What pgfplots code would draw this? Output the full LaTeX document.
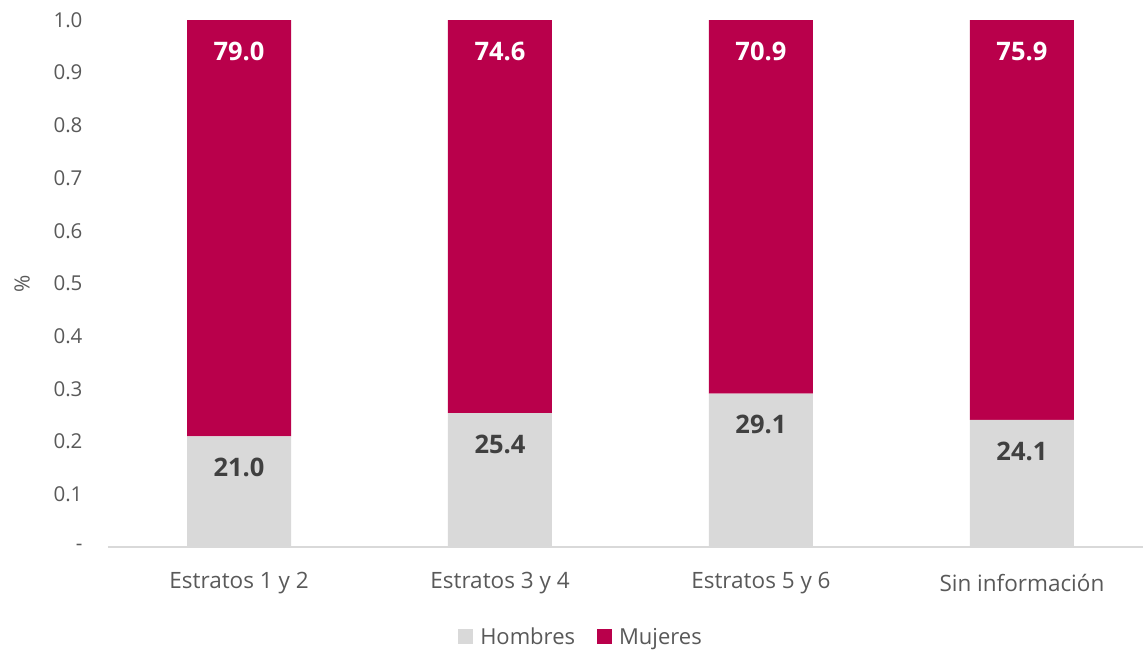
\documentclass[border=0pt]{standalone}
\usepackage{fontspec}
\setmainfont{Open Sans}
\usepackage{pgfplots}
\pgfplotsset{compat=1.18}
\definecolor{mujer}{RGB}{185,0,75}
\definecolor{hombre}{RGB}{217,217,217}
\definecolor{tickgray}{RGB}{89,89,89}
\definecolor{labgray}{RGB}{64,64,64}

\pgfplotsset{
    frame/.style={
        at={(0pt,0pt)}, anchor=south west,
        scale only axis,
        width=1035pt, height=527pt,
        xmin=-0.502, xmax=3.464,
        ymin=0, ymax=1,
        enlargelimits=false,
        clip=false,
    },
}

\begin{document}
\begin{tikzpicture}
\useasboundingbox (-108pt,-102pt) rectangle (1035pt,547pt);
\begin{axis}[
    frame,
    ybar stacked,
    bar width=104pt,
    axis x line*=bottom,
    axis y line*=left,
    x axis line style={draw=hombre, line width=1.5pt, -},
    y axis line style={draw=none},
    tick style={draw=none},
    xtick={0,1,2,3},
    xticklabels={Estratos 1 y 2, Estratos 3 y 4, Estratos 5 y 6, Sin información},
    ytick={0,0.1,0.2,0.3,0.4,0.5,0.6,0.7,0.8,0.9,1},
    yticklabels={-,0.1,0.2,0.3,0.4,0.5,0.6,0.7,0.8,0.9,1.0},
    yticklabel style={anchor=east, xshift=-22pt, font=\fontsize{20.5}{24}\selectfont, text=tickgray},
    xticklabel style={anchor=center, yshift=-36pt, font=\fontsize{22.5}{26}\selectfont, text=tickgray},
    ylabel={\%},
    ylabel style={at={(axis description cs:-0.083,0.5)}, anchor=center,
        font=\fontsize{21}{24}\selectfont, text=tickgray},
    legend style={at={(0.457,-0.171)}, anchor=center, draw=none,
        legend columns=2, font=\fontsize{22}{26}\selectfont, text=tickgray,
        /tikz/every odd column/.append style={column sep=5pt},
        /tikz/every even column/.append style={column sep=20pt}},
    legend image code/.code={\fill[#1] (0pt,-7pt) rectangle (15pt,8pt);},
]
\addplot[fill=hombre, draw=none]
    coordinates {(0,0.210) (1,0.254) (2,0.291) (3,0.241)};
\addplot[fill=mujer, draw=none]
    coordinates {(0,0.790) (1,0.746) (2,0.709) (3,0.759)};
\legend{Hombres, Mujeres}
\end{axis}
% data labels, placed at the top of each segment
\begin{axis}[
    frame,
    hide axis,
    point meta=explicit,
    nodes near coords={\pgfmathprintnumber[fixed,fixed zerofill,precision=1,assume math mode=true]{\pgfplotspointmeta}},
    every node near coord/.append style={anchor=center, yshift=-31pt,
        font=\bfseries\fontsize{25.5}{29}\selectfont},
]
\addplot[only marks, mark=none, every node near coord/.append style={text=labgray}]
    coordinates {(0,0.210) [21.0] (1,0.254) [25.4] (2,0.291) [29.1] (3,0.241) [24.1]};
\addplot[only marks, mark=none, every node near coord/.append style={text=white}]
    coordinates {(0,1.0) [79.0] (1,1.0) [74.6] (2,1.0) [70.9] (3,1.0) [75.9]};
\end{axis}
\end{tikzpicture}
\end{document}
